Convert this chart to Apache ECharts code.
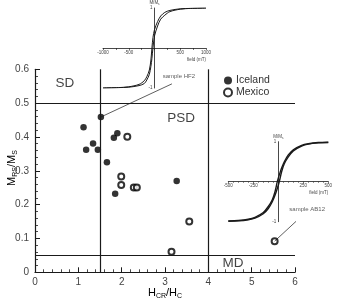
<!DOCTYPE html>
<html>
<head>
<meta charset="utf-8">
<script src="https://cdn.jsdelivr.net/npm/echarts@6/dist/echarts.min.js"></script>
<style>
  html, body { margin: 0; padding: 0; background: #fff; }
  #chart { width: 340px; height: 303px; }
</style>
</head>
<body>
<div id="chart"></div>
<script>
// main plot: Hcr/Hc vs Mrs/Ms
const icelandHc = [1.52, 1.12, 1.90, 1.82, 1.34, 1.18, 1.45, 1.66, 1.85, 3.27]
const icelandMr = [0.459, 0.429, 0.411, 0.398, 0.381, 0.362, 0.362, 0.325, 0.232, 0.27]
const mexicoHc = [2.13, 1.99, 1.99, 2.28, 2.35, 3.56, 3.15, 5.53]
const mexicoMr = [0.401, 0.283, 0.258, 0.251, 0.251, 0.15, 0.061, 0.092]

// domain boundaries
const sdPsdHc = 1.5
const psdMdHc = 4
const sdPsdMr = 0.5
const psdMdMr = 0.05

const regionNames = ['SD', 'PSD', 'MD']
const regionX = [0.69, 3.37, 4.57]
const regionY = [0.56, 0.456, 0.027]

// sample annotations (label anchor in main axes units)
const sampleNames = ['sample HF2', 'sample AB12']
const samplePoint = [[1.52, 0.459], [5.53, 0.092]]
const sampleLineEnd = [[3.16, 0.557], [6.23, 0.175]]
const sampleLabelAt = [[3.32, 0.578], [6.28, 0.186]]

// inset HF2 hysteresis loop (field mT, M/Ms)
const hf2Field = [1000, 700, 500, 300, 200, 120, 60, 0, -30, -50, -70, -100, -150, -200, -300, -500, -700, -1000]
const hf2Down = [1.0, 0.99, 0.98, 0.94, 0.89, 0.8, 0.66, 0.46, 0.26, 0.0, -0.3, -0.55, -0.72, -0.82, -0.91, -0.97, -0.99, -1.0]
const hf2Up = [1.0, 0.99, 0.97, 0.91, 0.82, 0.72, 0.55, 0.3, 0.0, -0.26, -0.46, -0.66, -0.8, -0.89, -0.94, -0.98, -0.99, -1.0]

// inset AB12 loop
const ab12Field = [500, 400, 300, 233, 150, 100, 60, 33, 10, 0, -10, -33, -60, -100, -150, -233, -300, -400, -500]
const ab12Down = [0.99, 0.98, 0.95, 0.91, 0.8, 0.67, 0.5, 0.34, 0.17, 0.09, 0.0, -0.25, -0.45, -0.62, -0.77, -0.89, -0.94, -0.97, -0.98]
const ab12Up = [0.98, 0.97, 0.94, 0.89, 0.77, 0.62, 0.45, 0.25, 0.0, -0.09, -0.17, -0.34, -0.5, -0.67, -0.8, -0.91, -0.95, -0.98, -0.99]

const font = 'Liberation Sans, Arial, sans-serif'
const ink = '#1a1a1a'
const zip = (a, b) => a.map((v, i) => [v, b[i]])
const nameRich = {
  a: { fontFamily: font, fontSize: 11, color: '#444', lineHeight: 13 },
  b: { fontFamily: font, fontSize: 7, color: '#444', verticalAlign: 'bottom' }
}

// inset axes are drawn through the origin by offsetting them into the grid middle
function insetAxes(grid, w, h, min, max, step, labelStep, minor) {
  return {
    x: {
      gridIndex: grid, type: 'value', min: min, max: max, interval: step, offset: -h / 2,
      name: 'field (mT)', nameLocation: 'end', nameGap: 0,
      nameTextStyle: { fontFamily: font, fontSize: 4.5, color: '#444', align: 'right', verticalAlign: 'top', padding: [9, 0, 0, 0] },
      axisLine: { onZero: false, lineStyle: { color: ink, width: 0.8 } },
      axisTick: { show: true, length: 2, lineStyle: { color: ink, width: 0.6 } },
      minorTick: { show: minor, splitNumber: 5, length: 1.2, lineStyle: { color: ink, width: 0.5 } },
      axisLabel: {
        fontFamily: font, fontSize: 4.5, color: '#444', margin: 2,
        formatter: v => (v !== 0 && v % labelStep === 0) ? String(v) : ''
      },
      splitLine: { show: false }
    },
    y: {
      gridIndex: grid, type: 'value', min: -1, max: 1, interval: 1, offset: -w / 2,
      name: '{a|M/M}{b|s}', nameLocation: 'end', nameGap: 1,
      nameTextStyle: { rich: { a: { fontFamily: font, fontSize: 4.5, color: '#444' }, b: { fontFamily: font, fontSize: 3, color: '#444', verticalAlign: 'bottom' } } },
      axisLine: { onZero: false, lineStyle: { color: ink, width: 0.8 } },
      axisTick: { show: false },
      axisLabel: { fontFamily: font, fontSize: 4.5, color: '#444', margin: 2, formatter: v => v === 0 ? '' : String(v) },
      splitLine: { show: false }
    }
  }
}

const inset1 = insetAxes(1, 103, 80, -1000, 1000, 250, 500, false)
const inset2 = insetAxes(2, 100, 80, -500, 500, 250, 250, true)

const option = {
  animation: false,
  backgroundColor: '#fff',
  grid: [
    { left: 35, top: 69.3, width: 260, height: 203, outerBoundsMode: 'none', containLabel: false },
    { left: 103, top: 8, width: 103, height: 80, outerBoundsMode: 'none', containLabel: false },
    { left: 228.3, top: 141.7, width: 100, height: 80, outerBoundsMode: 'none', containLabel: false }
  ],
  // axis titles with subscripts
  graphic: [
    {
      type: 'text', x: 12, y: 168, rotation: Math.PI / 2,
      style: { text: '{a|M}{b|RS}{a|/M}{b|S}', rich: nameRich, align: 'center', verticalAlign: 'middle' }
    },
    {
      type: 'text', x: 165, y: 293,
      style: { text: '{a|H}{b|CR}{a|/H}{b|C}', rich: nameRich, align: 'center', verticalAlign: 'middle' }
    }
  ],
  legend: {
    data: ['Iceland', 'Mexico'],
    orient: 'vertical',
    left: 218, top: 70,
    itemWidth: 8, itemHeight: 8, itemGap: 1,
    textStyle: { fontFamily: font, fontSize: 10.5, color: '#333', padding: [0, 0, 0, -1] }
  },
  xAxis: [
    {
      gridIndex: 0, type: 'value', min: 0, max: 6, interval: 1,
      axisLine: { onZero: false, lineStyle: { color: ink, width: 1.2 } },
      axisTick: { inside: true, length: 5, lineStyle: { color: ink, width: 1 } },
      minorTick: { show: true, splitNumber: 5, length: 3, lineStyle: { color: ink, width: 0.8 } },
      axisLabel: { fontFamily: font, fontSize: 10, color: '#444', margin: 5 },
      splitLine: { show: false }
    },
    inset1.x, inset2.x
  ],
  yAxis: [
    {
      gridIndex: 0, type: 'value', min: 0, max: 0.6, interval: 0.1,
      axisLine: { onZero: false, lineStyle: { color: ink, width: 1.2 } },
      axisTick: { inside: true, length: 5, lineStyle: { color: ink, width: 1 } },
      minorTick: { show: true, splitNumber: 5, length: 3, lineStyle: { color: ink, width: 0.8 } },
      axisLabel: { fontFamily: font, fontSize: 10, color: '#444', margin: 6, formatter: v => v === 0 ? '0' : v.toFixed(1) },
      splitLine: { show: false }
    },
    inset1.y, inset2.y
  ],
  series: [
    {
      name: 'boundaries', type: 'line', xAxisIndex: 0, yAxisIndex: 0, data: [], silent: true,
      markLine: {
        symbol: 'none', silent: true, label: { show: false },
        lineStyle: { color: ink, width: 1.2, type: 'solid' },
        data: [{ xAxis: sdPsdHc }, { xAxis: psdMdHc }, { yAxis: sdPsdMr }, { yAxis: psdMdMr }]
      }
    },
    {
      name: 'regions', type: 'scatter', xAxisIndex: 0, yAxisIndex: 0, symbolSize: 0, silent: true,
      data: regionNames.map((n, i) => ({ name: n, value: [regionX[i], regionY[i]] })),
      label: { show: true, position: 'inside', formatter: p => p.name, fontFamily: font, fontSize: 13.5, color: '#111' }
    },
    {
      name: 'HF2 leader', type: 'line', xAxisIndex: 0, yAxisIndex: 0, clip: false, silent: true, symbol: 'none',
      data: [samplePoint[0], sampleLineEnd[0]], lineStyle: { color: ink, width: 0.7 }
    },
    {
      name: 'AB12 leader', type: 'line', xAxisIndex: 0, yAxisIndex: 0, clip: false, silent: true, symbol: 'none',
      data: [samplePoint[1], sampleLineEnd[1]], lineStyle: { color: ink, width: 0.7 }
    },
    {
      name: 'sample labels', type: 'scatter', xAxisIndex: 0, yAxisIndex: 0, symbolSize: 0, silent: true, clip: false,
      data: sampleNames.map((n, i) => ({ name: n, value: sampleLabelAt[i] })),
      label: { show: true, position: 'inside', formatter: p => p.name, fontFamily: font, fontSize: 6, color: '#333' }
    },
    {
      name: 'Iceland', type: 'scatter', xAxisIndex: 0, yAxisIndex: 0, symbol: 'circle', symbolSize: 6.5,
      itemStyle: { color: '#000' },
      data: zip(icelandHc, icelandMr)
    },
    {
      name: 'Mexico', type: 'scatter', xAxisIndex: 0, yAxisIndex: 0, symbol: 'emptyCircle', symbolSize: 6,
      itemStyle: { color: '#000', borderWidth: 1 },
      data: zip(mexicoHc, mexicoMr)
    },
    {
      name: 'HF2 down', type: 'line', xAxisIndex: 1, yAxisIndex: 1, symbol: 'none', smooth: 0.3, silent: true,
      lineStyle: { color: ink, width: 1 }, data: zip(hf2Field, hf2Down)
    },
    {
      name: 'HF2 up', type: 'line', xAxisIndex: 1, yAxisIndex: 1, symbol: 'none', smooth: 0.3, silent: true,
      lineStyle: { color: ink, width: 1 }, data: zip(hf2Field, hf2Up)
    },
    {
      name: 'AB12 down', type: 'line', xAxisIndex: 2, yAxisIndex: 2, symbol: 'none', smooth: 0.3, silent: true,
      lineStyle: { color: ink, width: 1.4 }, data: zip(ab12Field, ab12Down)
    },
    {
      name: 'AB12 up', type: 'line', xAxisIndex: 2, yAxisIndex: 2, symbol: 'none', smooth: 0.3, silent: true,
      lineStyle: { color: ink, width: 1.4 }, data: zip(ab12Field, ab12Up)
    }
  ]
}

const chart = echarts.init(document.getElementById('chart'), null, { renderer: 'canvas' })
chart.setOption(option)
</script>
</body>
</html>
